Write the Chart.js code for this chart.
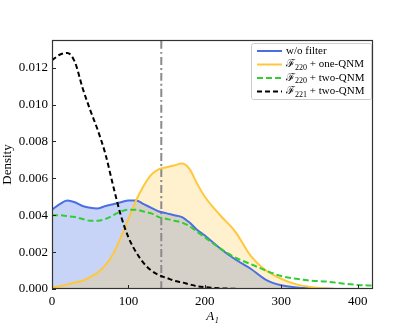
<!DOCTYPE html>
<html>
<head>
<meta charset="utf-8">
<script src="https://cdn.jsdelivr.net/npm/chart.js@4"></script>
<style>
  html, body { margin: 0; padding: 0; background: #fff; }
</style>
</head>
<body>
<canvas id="densityChart" width="415" height="332"></canvas>
<script>
  // A1 grid (x) and the four density curves
  var a1Grid = [0, 10, 20, 30, 40, 50, 60, 70, 80, 90, 100, 110, 120, 130, 140, 150, 160, 170, 180, 190, 200, 220, 240, 260, 280, 300, 320, 340, 360, 380, 400, 420];
  var noFilterData = [0.0043, 0.0046, 0.0048, 0.0047, 0.0045, 0.0044, 0.00437, 0.0045, 0.0046, 0.0047, 0.0048, 0.0048, 0.0046, 0.0044, 0.0042, 0.0041, 0.0040, 0.0039, 0.0036, 0.0032, 0.0029, 0.0022, 0.0016, 0.0011, 0.0005, 0.0002, 0.00008, 0.00003, 0.00001, 0, 0, 0];
  var oneQnm220Data = [0.0001, 0.00015, 0.00025, 0.00035, 0.00045, 0.00065, 0.0009, 0.0013, 0.0019, 0.0028, 0.0038, 0.0048, 0.0056, 0.0062, 0.0065, 0.0066, 0.0067, 0.0068, 0.0065, 0.0057, 0.0050, 0.0040, 0.0031, 0.0018, 0.0010, 0.00055, 0.00025, 0.0001, 0.00003, 0, 0, 0];
  var twoQnm220Data = [0.0040, 0.0040, 0.00395, 0.0039, 0.0038, 0.0037, 0.0037, 0.0038, 0.0040, 0.0042, 0.0043, 0.0043, 0.0042, 0.0041, 0.0039, 0.0038, 0.0037, 0.0036, 0.0034, 0.0031, 0.0028, 0.0022, 0.0017, 0.00135, 0.0010, 0.0007, 0.00055, 0.00045, 0.0004, 0.0003, 0.00022, 0.00018];
  var twoQnm221Data = [0.0124, 0.0127, 0.0128, 0.0123, 0.0109, 0.0097, 0.0086, 0.0073, 0.0056, 0.0040, 0.0028, 0.0020, 0.0014, 0.0010, 0.00075, 0.0006, 0.00045, 0.00036, 0.00025, 0.00015, 0.0001, 0.00004, 0.00001, 0, 0, 0, 0, 0, 0, 0, 0, 0];
  var injectedA1 = 143;
  var seriesLabels = ['w/o filter', 'ℱ_{220} + one-QNM', 'ℱ_{220} + two-QNM', 'ℱ_{221} + two-QNM'];

  var serif = "'Liberation Serif', 'DejaVu Serif', serif";

  function toPoints(ys) {
    return a1Grid.map(function (x, i) { return { x: x, y: ys[i] }; });
  }

  // legend drawn inside the plot, upper right, like the matplotlib one
  function drawRich(ctx, text, x, y) {
    var parts = text.split(/_\{(.*?)\}/);
    for (var i = 0; i < parts.length; i++) {
      if (!parts[i]) continue;
      var sub = i % 2 === 1;
      ctx.font = (sub ? '8px ' : '11px ') + serif;
      ctx.fillText(parts[i], x, sub ? y + 3 : y);
      x += ctx.measureText(parts[i]).width;
    }
  }

  var boxLegend = {
    id: 'boxLegend',
    afterDraw: function (chart) {
      var ctx = chart.ctx, a = chart.chartArea;
      var w = 120, h = 56;
      var x0 = a.right - w - 2, y0 = a.top + 3;
      ctx.save();
      ctx.fillStyle = 'rgba(255,255,255,0.85)';
      ctx.strokeStyle = '#cccccc';
      ctx.lineWidth = 1;
      ctx.beginPath();
      ctx.roundRect(x0 + 0.5, y0 + 0.5, w, h, 2);
      ctx.fill();
      ctx.stroke();
      ctx.textBaseline = 'middle';
      ctx.fillStyle = '#000';
      for (var i = 0; i < seriesLabels.length; i++) {
        var ds = chart.data.datasets[i];
        var y = y0 + 8 + i * 13.5;
        ctx.setLineDash(ds.borderDash || []);
        ctx.strokeStyle = ds.borderColor;
        ctx.lineWidth = 2;
        ctx.beginPath();
        ctx.moveTo(x0 + 6, y);
        ctx.lineTo(x0 + 31, y);
        ctx.stroke();
        drawRich(ctx, seriesLabels[i], x0 + 35, y);
      }
      ctx.restore();
    }
  };

  // frame all round + inward ticks on left and bottom
  var frameTicks = {
    id: 'frameTicks',
    afterDatasetsDraw: function (chart) {
      var ctx = chart.ctx, a = chart.chartArea;
      var xs = chart.scales.x, ys = chart.scales.y;
      ctx.save();
      ctx.strokeStyle = '#222';
      ctx.lineWidth = 1;
      ctx.beginPath();
      xs.ticks.forEach(function (t) {
        var px = Math.round(xs.getPixelForValue(t.value)) + 0.5;
        ctx.moveTo(px, a.bottom);
        ctx.lineTo(px, a.bottom - 4);
      });
      ys.ticks.forEach(function (t) {
        var py = Math.round(ys.getPixelForValue(t.value)) + 0.5;
        ctx.moveTo(a.left, py);
        ctx.lineTo(a.left + 4, py);
      });
      ctx.stroke();
      ctx.lineWidth = 1.2;
      ctx.strokeStyle = '#333';
      ctx.strokeRect(a.left + 0.5, a.top + 0.5, a.right - a.left - 1, a.bottom - a.top - 1);
      ctx.restore();
    }
  };

  var ctx = document.getElementById('densityChart').getContext('2d');
  var densityChart = new Chart(ctx, {
    type: 'line',
    data: {
      datasets: [
        {
          label: seriesLabels[0],
          data: toPoints(noFilterData),
          borderColor: 'rgb(74,111,227)',
          backgroundColor: 'rgba(74,111,227,0.3)',
          fill: 'origin',
          borderWidth: 2,
          order: 4
        },
        {
          label: seriesLabels[1],
          data: toPoints(oneQnm220Data),
          borderColor: 'rgb(255,200,60)',
          backgroundColor: 'rgba(255,200,60,0.25)',
          fill: 'origin',
          borderWidth: 2,
          order: 3
        },
        {
          label: seriesLabels[2],
          data: toPoints(twoQnm220Data),
          borderColor: 'rgb(50,205,50)',
          borderDash: [6, 3],
          fill: false,
          borderWidth: 2,
          order: 2
        },
        {
          label: seriesLabels[3],
          data: toPoints(twoQnm221Data),
          borderColor: '#000',
          borderDash: [5, 3],
          fill: false,
          borderWidth: 2,
          order: 1
        },
        {
          label: 'injected',
          data: [{ x: injectedA1, y: 0 }, { x: injectedA1, y: 0.0135 }],
          borderColor: '#8a8a8a',
          borderDash: [8, 3, 2, 3],
          borderWidth: 2,
          fill: false,
          order: 5
        }
      ]
    },
    options: {
      responsive: false,
      animation: false,
      devicePixelRatio: 1,
      layout: { padding: { top: 40, right: 42, left: 0, bottom: 0 } },
      elements: {
        point: { radius: 0 },
        line: { cubicInterpolationMode: 'monotone' }
      },
      plugins: {
        legend: { display: false },
        tooltip: { enabled: false },
        filler: { drawTime: 'beforeDatasetsDraw' }
      },
      scales: {
        x: {
          type: 'linear',
          min: 0,
          max: 420,
          grid: { display: false, drawTicks: false },
          border: { display: false },
          ticks: {
            stepSize: 100,
            includeBounds: false,
            padding: 5,
            color: '#000',
            font: { family: serif, size: 13 }
          },
          title: {
            display: true,
            text: 'A₁',
            color: '#000',
            padding: { top: 0, bottom: 8 },
            font: { family: serif, size: 13, style: 'italic' }
          },
          afterFit: function (scale) { scale.height = 43; }
        },
        y: {
          min: 0,
          max: 0.0135,
          grid: { display: false, drawTicks: false },
          border: { display: false },
          ticks: {
            stepSize: 0.002,
            includeBounds: false,
            padding: 4,
            color: '#000',
            font: { family: serif, size: 13 },
            callback: function (v) { return v.toFixed(3); }
          },
          title: {
            display: true,
            text: 'Density',
            color: '#000',
            padding: { top: 0, bottom: 0 },
            font: { family: serif, size: 13 }
          },
          afterFit: function (scale) { scale.width = 52; }
        }
      }
    },
    plugins: [frameTicks, boxLegend]
  });
</script>
</body>
</html>
